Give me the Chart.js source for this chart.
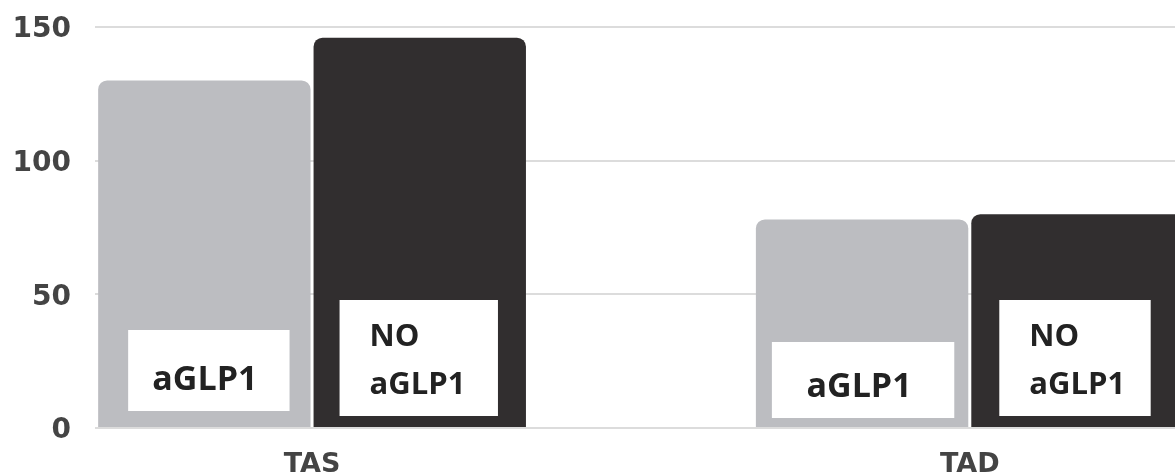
<!DOCTYPE html>
<html><head><meta charset="utf-8">
<script src="https://cdn.jsdelivr.net/npm/chart.js@4"></script>
<style>html,body{margin:0;padding:0;background:#fff;overflow:hidden}</style>
</head><body>
<canvas id="c" width="1175" height="476" style="width:1175px;height:476px;display:block"></canvas>
<script>
// ---- data ----
const categories = ['TAS', 'TAD'];
const seriesNames = ['aGLP1', 'NO aGLP1'];
const aGLP1Values = [130, 78];
const noAGLP1Values = [146, 80];
const yTickValues = [0, 50, 100, 150];
const boxTexts = [['aGLP1'], ['NO', 'aGLP1']];

// ---- styles ----
const colors = ['#bcbdc1', '#312e2f'];
// inset boxes relative to each bar: left inset, right inset, gap above base, height
const boxStyle = [
  [{l: 30, r: 21, b: 16, h: 81}, {l: 16, r: 14, b: 9, h: 76}],
  [{l: 26, r: 28, b: 11, h: 116}, {l: 28, r: 33, b: 11, h: 116}]
];

const boxPlugin = {
  id: 'boxes',
  afterDatasetsDraw(chart) {
    const ctx = chart.ctx;
    const area = chart.chartArea;
    ctx.save();
    ctx.beginPath();
    ctx.rect(area.left, area.top, area.right - area.left, area.bottom - area.top);
    ctx.clip();
    chart.data.datasets.forEach((ds, di) => {
      const meta = chart.getDatasetMeta(di);
      meta.data.forEach((bar, j) => {
        const p = bar.getProps(['x', 'width', 'base'], true);
        const s = boxStyle[di][j];
        const left = p.x - p.width / 2 + s.l;
        const right = p.x + p.width / 2 - s.r;
        const bottom = p.base - s.b;
        const top = bottom - s.h;
        ctx.fillStyle = '#ffffff';
        ctx.fillRect(left, top, right - left, bottom - top);
        ctx.fillStyle = '#222222';
        ctx.textBaseline = 'alphabetic';
        const lines = boxTexts[di];
        if (lines.length === 1) {
          ctx.font = 'bold 34px "Open Sans"';
          ctx.textAlign = 'center';
          ctx.fillText(lines[0], (left + right) / 2 - 4, bottom - 21);
        } else {
          ctx.font = 'bold 31px "Open Sans"';
          ctx.textAlign = 'left';
          ctx.fillText(lines[0], left + 30, top + 46);
          ctx.fillText(lines[1], left + 30, top + 94);
        }
      });
    });
    ctx.restore();
  }
};

const valueSets = [aGLP1Values, noAGLP1Values];
new Chart(document.getElementById('c'), {
  type: 'bar',
  data: {
    datasets: seriesNames.map((name, di) => ({
      label: name,
      data: categories.map((c, i) => ({x: i, y: valueSets[di][i]})),
      backgroundColor: colors[di],
      borderWidth: 0,
      borderRadius: 9,
      categoryPercentage: 0.655,
      barPercentage: 0.986
    }))
  },
  options: {
    responsive: false,
    animation: false,
    events: [],
    layout: {padding: {top: 27, left: 0, right: 0, bottom: 0}},
    plugins: {legend: {display: false}, tooltip: {enabled: false}},
    scales: {
      x: {
        type: 'linear',
        min: -0.33,
        max: 1.312,
        offset: false,
        grid: {display: false, drawTicks: false},
        border: {display: false},
        afterBuildTicks: (s) => { s.ticks = categories.map((c, i) => ({value: i})); },
        afterFit: (s) => { s.height = 48; s.paddingLeft = 0; s.paddingRight = 0; },
        ticks: {
          autoSkip: false, maxRotation: 0, padding: 21,
          color: '#444444',
          font: {family: 'DejaVu Sans', weight: 'bold', size: 27},
          callback: (v) => categories[v]
        }
      },
      y: {
        min: 0,
        max: 150,
        grid: {color: '#dcdcdc', lineWidth: 2, drawTicks: false},
        border: {display: false},
        afterBuildTicks: (s) => { s.ticks = yTickValues.map(v => ({value: v})); },
        afterFit: (s) => { s.width = 95; s.paddingTop = 0; s.paddingBottom = 0; },
        ticks: {
          padding: 24,
          labelOffset: 3,
          color: '#444444',
          font: {family: 'DejaVu Sans', weight: 'bold', size: 28}
        }
      }
    }
  },
  plugins: [boxPlugin]
});
</script>
</body></html>
